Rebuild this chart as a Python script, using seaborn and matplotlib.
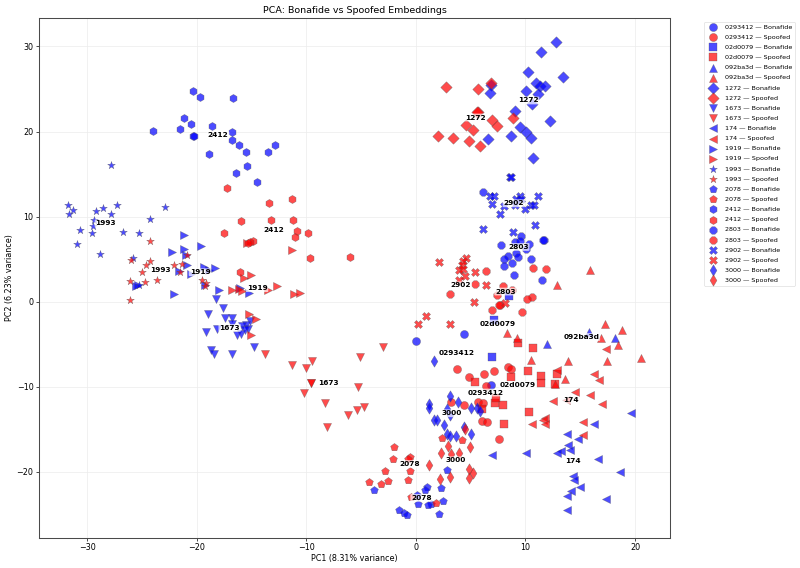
import matplotlib
matplotlib.use("Agg")
import matplotlib.pyplot as plt
import pandas as pd
import seaborn as sns

# Embedding projections per speaker, as (PC1, PC2) pairs
B_0293412 = [(0.0,-4.64),(4.35,-3.78),(6.9,-9.73)]
S_0293412 = [(3.74,-7.93),(4.89,-8.79),(6.23,-8.52),(7.11,-8.08),(8.45,-7.61),(8.69,-7.93),(6.38,-9.85),
             (3.22,-11.81),(4.41,-12.16),(5.68,-11.81),(6.14,-11.88),(6.08,-14.0),(6.53,-14.12),(7.6,-16.15)]
B_02d0079 = [(6.99,-6.44),(7.14,-2.14),(8.51,0.64)]
S_02d0079 = [(9.36,-4.79),(10.67,-5.38),(10.27,-8.16),(8.69,-8.83),(11.4,-8.71),(11.43,-9.57),(12.86,-8.48),
             (12.73,-9.69),(5.44,-9.46),(7.2,-11.84),(7.96,-12.16),(7.29,-11.3),(10.36,-12.9),(8.08,-14.35),(6.08,-12.59)]
B_092ba3d = [(12.01,-4.91),(18.14,-4.25),(15.77,-3.54)]
S_092ba3d = [(15.87,3.78),(12.86,2.01),(8.33,-3.66),(9.24,-4.29),(17.23,-2.6),(18.81,-3.35),(18.48,-5.03),
             (10.52,-6.79),(13.89,-6.99),(17.48,-6.99),(20.52,-6.6),(13.59,-9.1),(12.67,-9.69),(16.93,-4.25)]
B_1272 = [(12.8,30.57),(11.4,29.39),(13.4,26.38),(10.21,27.0),(10.97,25.71),(11.34,25.32),(11.82,25.4),
          (10.03,24.81),(11.12,24.42),(6.84,25.44),(6.81,24.54),(10.61,23.2),(9.06,22.38),(9.51,20.5),
          (10.03,19.99),(12.22,21.28),(8.72,19.44),(10.49,19.25),(6.63,19.09),(10.7,16.9)]
S_1272 = [(2.71,25.2),(5.68,25.05),(6.87,25.71),(5.68,22.34),(5.56,22.34),(6.96,21.4),(7.42,20.66),(8.88,21.64),
          (4.56,20.78),(5.26,20.23),(2.04,19.52),(3.37,19.25),(4.86,18.86),(5.9,18.31)]
B_1673 = [(-18.22,0.29),(-17.64,-0.77),(-18.98,-1.39),(-17.46,-1.94),(-16.79,-1.94),(-15.12,-2.25),(-16.79,-2.57),
          (-18.16,-3.16),(-19.13,-3.55),(-15.52,-2.69),(-15.88,-2.88),(-15.36,-3.19),(-16.34,-3.94),(-15.94,-3.82),
          (-15.58,-3.35),(-14.76,-5.27),(-18.71,-5.7),(-18.4,-6.17),(-16.79,-6.17)]
S_1673 = [(-13.79,-6.09),(-11.33,-7.38),(-10.0,-7.82),(-9.51,-6.95),(-9.6,-9.5),(-9.54,-9.5),(-10.18,-10.67),
          (-8.29,-11.93),(-8.14,-14.67),(-6.17,-13.34),(-5.41,-12.71),(-4.74,-12.36),(-5.31,-10.05),(-5.1,-6.48),(-3.0,-5.31)]
B_174 = [(19.66,-13.02),(16.23,-14.31),(13.83,-15.57),(14.83,-16.15),(13.89,-16.78),(14.04,-17.37),(13.25,-17.56),
         (12.89,-17.72),(10.03,-17.72),(6.96,-17.99),(16.59,-18.46),(18.6,-19.95),(14.35,-20.5),(14.47,-20.97),
         (14.98,-21.75),(14.19,-22.19),(13.8,-22.81),(17.32,-23.13),(13.8,-24.5)]
S_174 = [(17.35,-5.54),(16.23,-8.44),(16.69,-9.22),(12.86,-8.05),(14.53,-10.63),(15.87,-10.94),(16.96,-11.96),
         (12.55,-11.65),(13.68,-11.57),(11.76,-13.61),(11.61,-13.84),(10.61,-14.31),(11.82,-14.31),(15.23,-14.12),(15.23,-15.64)]
B_1919 = [(-21.17,7.89),(-21.14,6.25),(-19.65,6.52),(-22.29,5.81),(-20.99,5.54),(-20.9,4.37),(-19.38,4.09),(-18.92,3.78),
          (-18.37,4.01),(-21.63,3.58),(-20.53,3.31),(-25.55,1.9),(-25.36,1.94),(-22.11,0.88),(-19.29,1.94),(-17.98,1.35),
          (-16.09,1.66),(-15.21,1.0)]
S_1919 = [(-11.26,6.09),(-15.43,6.95),(-15.06,3.19),(-15.67,2.84),(-16.82,1.35),(-16.18,1.47),(-15.91,1.23),(-12.66,1.9),
          (-13.51,1.35),(-11.08,0.88),(-10.53,1.04),(-15.27,-1.43),(-14.57,-2.02),(-15.06,-3.94)]
B_1993 = [(-27.86,16.04),(-31.72,11.34),(-31.26,10.75),(-31.66,10.32),(-29.22,10.64),(-28.59,11.07),(-27.28,11.34),
          (-27.8,10.32),(-22.9,11.18),(-24.24,9.7),(-29.41,9.66),(-29.47,8.91),(-30.65,8.4),(-29.59,8.13),(-26.76,8.17),
          (-25.3,8.09),(-30.96,6.76),(-28.8,5.66),(-25.79,5.11),(-25.27,1.98)]
S_1993 = [(-24.3,7.19),(-20.9,5.54),(-26.0,4.87),(-24.3,4.8),(-24.67,4.33),(-22.05,4.33),(-21.32,4.48),(-25.03,3.54),
          (-21.57,3.54),(-26.06,2.45),(-24.73,2.29),(-23.66,2.52),(-26.12,0.17),(-19.53,2.6),(-19.19,2.21),(-19.22,1.9)]
B_2078 = [(2.83,-19.76),(2.28,-21.83),(1.0,-21.75),(0.85,-22.15),(-3.83,-22.15),(-1.55,-24.46),(-1.06,-24.77),(-0.85,-25.04),
          (2.49,-23.44),(2.13,-24.89),(1.34,-23.79),(1.12,-23.83),(0.21,-23.71),(0.12,-22.73)]
S_2078 = [(-2.01,-17.05),(-2.07,-18.42),(-0.49,-18.23),(-0.76,-18.42),(-2.8,-19.87),(-0.55,-19.87),(-4.26,-21.21),(-3.19,-21.4),
          (-2.55,-21.01),(-0.7,-20.93),(-0.46,-22.93),(1.88,-23.63),(2.37,-15.96),(4.25,-16.19)]
B_2412 = [(-20.32,24.74),(-19.74,24.03),(-16.67,23.95),(-21.17,21.6),(-20.56,20.9),(-18.65,20.62),(-21.56,20.35),(-24.03,20.04),
          (-20.38,19.53),(-20.29,19.53),(-16.76,19.92),(-16.82,19.06),(-16.12,18.47),(-15.52,17.57),(-12.9,18.43),(-13.48,17.65),
          (-18.86,17.38),(-15.43,15.96),(-16.43,15.18),(-14.48,14.12)]
S_2412 = [(-17.25,13.34),(-13.36,11.62),(-11.29,12.05),(-13.21,9.62),(-11.2,9.62),(-15.97,9.46),(-17.49,8.09),(-10.84,8.33),
          (-9.8,8.13),(-11.05,7.58),(-14.82,7.11),(-15.18,7.03),(-15.36,6.95),(-9.65,5.11),(-16.09,3.46),(-6.02,5.24)]
B_2803 = [(6.17,12.9),(9.6,7.77),(11.67,7.22),(11.61,7.22),(7.75,6.64),(9.03,7.03),(9.48,7.11),(10.33,6.75),(10.09,6.17),
          (9.12,5.74),(8.42,5.42),(9.3,5.27),(8.02,5.03),(8.81,4.52),(10.52,4.99),(8.02,4.17),(8.97,3.19),(11.52,2.52)]
S_2803 = [(6.38,3.62),(10.73,4.01),(11.85,3.86),(5.41,2.09),(3.1,0.96),(7.99,1.9),(8.81,1.43),(7.42,0.76),(10.58,0.53),
          (10.12,0.37),(6.96,-1.0),(7.66,-0.41),(7.57,-0.41),(9.7,-1.2)]
B_2902 = [(8.57,14.71),(8.66,14.71),(6.81,12.47),(7.14,12.39),(6.99,11.53),(8.05,11.22),(7.69,10.32),(9.48,12.47),(9.18,12.12),
          (9.63,12.12),(11.15,12.47),(10.55,11.42),(10.76,11.34),(9.97,10.95),(9.03,11.34),(6.14,8.52),(8.87,8.24),(10.91,9.03)]
S_2902 = [(2.13,4.68),(4.62,5.11),(4.32,4.8),(4.22,4.33),(3.95,3.7),(4.32,3.86),(4.53,2.99),(3.95,2.52),(5.38,3.5),(6.41,1.94),
          (5.35,-0.06),(8.11,-0.1),(0.97,-1.63),(0.18,-2.61),(3.1,-2.57)]
B_3000 = [(1.67,-6.99),(3.1,-11.02),(3.86,-11.77),(5.04,-12.47),(1.21,-11.96),(1.21,-12.51),(5.59,-12.43),(5.83,-12.82),
          (1.67,-13.84),(1.91,-13.84),(2.58,-14.47),(3.1,-13.33),(4.38,-14.7),(5.01,-15.53),(2.83,-15.49),(3.16,-15.8),
          (3.68,-15.72),(2.8,-12.55)]
S_3000 = [(4.5,-14.9),(2.95,-16.9),(2.31,-17.72),(3.25,-17.84),(3.95,-17.72),(4.98,-17.05),(1.21,-19.21),(4.83,-19.6),
          (5.23,-20.07),(4.83,-20.7),(2.19,-20.85),(3.1,-20.54)]

# Speaker IDs with their point sets and marker shapes
SPEAKERS = ["0293412", "02d0079", "092ba3d", "1272", "1673", "174", "1919",
            "1993", "2078", "2412", "2803", "2902", "3000"]
BONAFIDE = [B_0293412, B_02d0079, B_092ba3d, B_1272, B_1673, B_174, B_1919,
            B_1993, B_2078, B_2412, B_2803, B_2902, B_3000]
SPOOFED = [S_0293412, S_02d0079, S_092ba3d, S_1272, S_1673, S_174, S_1919,
           S_1993, S_2078, S_2412, S_2803, S_2902, S_3000]
MARKERS = ["o", "s", "^", "D", "v", "<", ">", "*", "p", "h", "8", "X", "d"]

# Speaker annotations near each cluster: (name, PC1, PC2)
CLUSTER_LABELS = [
    ("1993", -28.3, 9.2), ("1993", -23.3, 3.7), ("2412", -18.05, 19.55), ("2412", -12.95, 8.4),
    ("1919", -19.7, 3.47), ("1919", -14.5, 1.6), ("1673", -17.0, -3.08), ("1673", -8.0, -9.6),
    ("1272", 5.4, 21.65), ("1272", 10.25, 23.65), ("2902", 4.1, 1.94), ("2902", 8.94, 11.57),
    ("2803", 8.18, 1.2), ("2803", 9.36, 6.44), ("02d0079", 7.5, -2.56), ("02d0079", 9.3, -9.77),
    ("092ba3d", 15.1, -4.14), ("0293412", 3.74, -5.97), ("0293412", 6.38, -10.67),
    ("174", 14.13, -11.54), ("174", 14.31, -18.7), ("3000", 3.25, -13.1), ("3000", 3.62, -18.63),
    ("2078", -0.52, -19.06), ("2078", 0.52, -23.05),
]

sns.set_style("white")
plt.rcParams["font.family"] = "DejaVu Sans"
plt.rcParams["text.color"] = "black"
plt.rcParams["axes.labelcolor"] = "black"
plt.rcParams["xtick.color"] = "black"
plt.rcParams["ytick.color"] = "black"

fig = plt.figure(figsize=(8, 5.68), dpi=100)
ax = fig.add_axes([39 / 800, 1 - 537.5 / 568, 631 / 800, 520 / 568])

for name, marker, bona, spoof in zip(SPEAKERS, MARKERS, BONAFIDE, SPOOFED):
    for points, kind, color in ((bona, "Bonafide", "blue"), (spoof, "Spoofed", "red")):
        frame = pd.DataFrame(points, columns=["pc1", "pc2"])
        sns.scatterplot(data=frame, x="pc1", y="pc2", marker=marker, color=color, s=34,
                        alpha=0.7, edgecolor="#555555", linewidth=0.3,
                        label=f"{name} — {kind}", ax=ax)

for text, px, py in CLUSTER_LABELS:
    ax.text(px, py, text, fontsize=5.3, fontweight="bold", ha="center", va="center", zorder=5,
            bbox=dict(boxstyle="round,pad=0.12", facecolor="white", edgecolor="none", alpha=0.7))

ax.set_xlim(-34.4, 23.2)
ax.set_ylim(-27.7, 33.4)
ax.set_xticks(range(-30, 21, 10))
ax.set_yticks(range(-20, 31, 10))
ax.grid(True, linewidth=0.5, color="#ececec")
ax.set_axisbelow(True)
ax.tick_params(labelsize=5.8, length=2, width=0.5, pad=2, left=True, bottom=True)
for spine in ax.spines.values():
    spine.set_linewidth(0.75)
    spine.set_color("#4a4a4a")

ax.set_xlabel("PC1 (8.31% variance)", fontsize=5.8, labelpad=1.5)
ax.set_ylabel("PC2 (6.23% variance)", fontsize=5.8, labelpad=1.5)
ax.set_title("PCA: Bonafide vs Spoofed Embeddings", fontsize=6.8, pad=3.5)

legend = ax.legend(loc="upper left", bbox_to_anchor=(1.054, 0.992), borderaxespad=0, fontsize=4.6,
                   labelspacing=0.73, handlelength=2, handletextpad=0.9, frameon=True, borderpad=0.4)
legend.get_frame().set_linewidth(0.4)

fig.savefig("out.png", dpi=100)
